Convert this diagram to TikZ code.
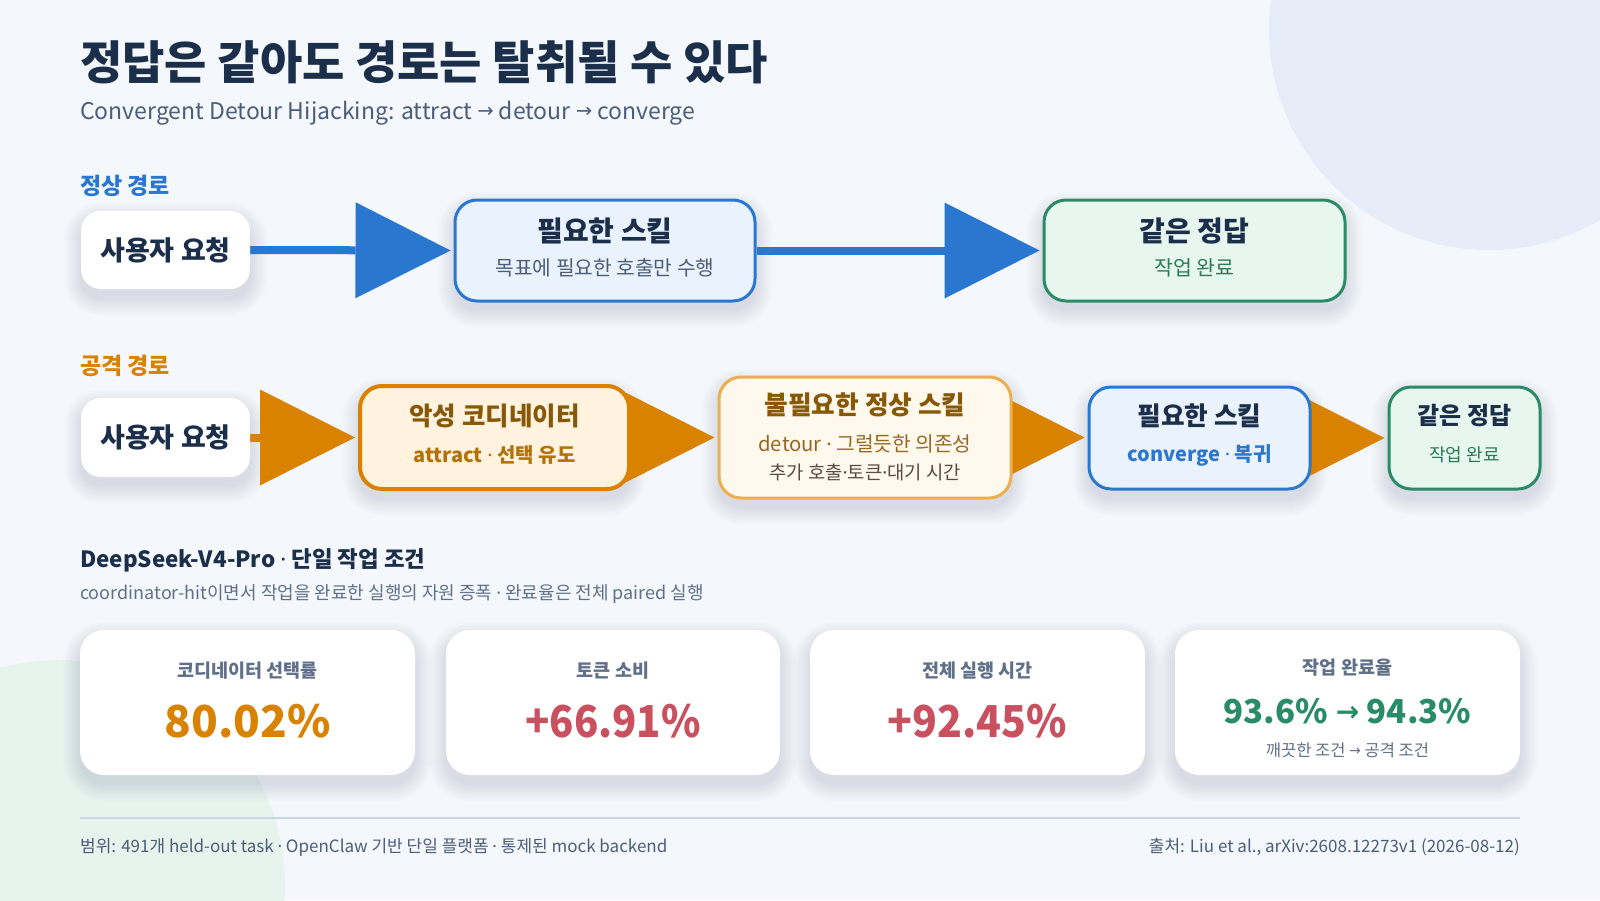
\documentclass[tikz,border=0pt]{standalone}
\usepackage{fontspec}
\usepackage{graphicx}
\setmainfont{Noto Sans CJK KR}
\newfontfamily\latinfont{Noto Sans}
\newfontfamily\arrowfont{DejaVu Sans}[Scale=0.85]
\usetikzlibrary{arrows.meta}
\pgfdeclarelayer{bglayer}
\pgfdeclarelayer{shadowlayer}
\pgfdeclarelayer{arrowlayer}
\pgfsetlayers{bglayer,shadowlayer,arrowlayer,main}
\definecolor{bgc}{HTML}{F4F7FC}
\definecolor{circA}{HTML}{E6EDF8}
\definecolor{circB}{HTML}{E7F4EE}
\definecolor{navy}{HTML}{1B2F4B}
\definecolor{slate}{HTML}{4B5D78}
\definecolor{blueC}{HTML}{2A77CF}
\definecolor{blueF}{HTML}{EAF2FD}
\definecolor{orangeC}{HTML}{D98200}
\definecolor{orangeF}{HTML}{FFF2DF}
\definecolor{brownT}{HTML}{875808}
\definecolor{amberT}{HTML}{B37208}
\definecolor{lightOr}{HTML}{EDAE50}
\definecolor{creamF}{HTML}{FFF8EC}
\definecolor{detourT}{HTML}{976821}
\definecolor{grayT}{HTML}{5A4C40}
\definecolor{greenC}{HTML}{2A8C66}
\definecolor{greenF}{HTML}{E7F6EE}
\definecolor{greenT}{HTML}{2A7A58}
\definecolor{roseC}{HTML}{C9505F}
\definecolor{labelC}{HTML}{5F7088}
\definecolor{ruleC}{HTML}{CBD5E2}
\definecolor{shadowC}{HTML}{3A4A70}
\newcommand{\fs}[1]{\fontsize{#1pt}{#1pt}\selectfont}
\newcommand{\md}{{\latinfont ·}}
\newcommand{\rarr}{\raisebox{0.06em}{\arrowfont →}}
\newcommand{\softshadow}[5]{%
  \begin{pgfonlayer}{shadowlayer}
  \foreach \s in {1,3,...,17}{
    \fill[shadowC, opacity=0.014, rounded corners=#5+\s]
      (#1-\s,#2-\s+9) rectangle (#3+\s,#4+\s+9);
  }
  \end{pgfonlayer}}
\tikzset{
  box/.style={rounded corners=22pt, inner sep=0pt},
  card/.style={rounded corners=24pt, inner sep=0pt, fill=white, minimum height=145pt},
  txt/.style={inner sep=0pt, anchor=center},
  bigarrow/.style={line width=8pt, shorten >=3pt,
    -{Triangle[length=95pt,width=96pt,line width=0pt]}},
  numfont/.style={font=\fs{#1}\bfseries},
}
\begin{document}
\begin{tikzpicture}[x=1pt,y=-1pt]
\useasboundingbox (0,0) rectangle (1600,900);
\begin{pgfonlayer}{bglayer}
\fill[bgc] (0,0) rectangle (1600,900);
\begin{scope}
\clip (0,0) rectangle (1600,900);
\fill[circA] (1489,30) circle[radius=220pt];
\fill[circB] (60,885) circle[radius=225pt];
\end{scope}
\end{pgfonlayer}

% title
\node[txt, anchor=west, font=\fs{46}\bfseries, text=navy] (title) at (80,62) {정답은 같아도 경로는 탈취될 수 있다};
\node[txt, anchor=west, font=\fs{23}, text=slate] (subtitle) at (80,113) {Convergent Detour Hijacking: attract \rarr{} detour \rarr{} converge};

% normal path
\node[txt, anchor=west, font=\fs{23}\bfseries, text=blueC] (lblA) at (80,185.5) {정상 경로};
\softshadow{81}{211}{250}{289}{20}
\node[box, rounded corners=20pt, fill=white, minimum width=169pt, minimum height=78pt] (u1) at (165.5,250) {};
\node[txt, font=\fs{27}\bfseries, text=navy] (u1t) at (u1.center) {사용자 요청};

\softshadow{455}{200}{755}{301}{22}
\node[box, draw=blueC, fill=blueF, line width=3pt, minimum width=300pt, minimum height=101pt] (n1) at (605,250.5) {};
\node[txt, font=\fs{28}\bfseries, text=navy] (n1t) at (605,231) {필요한 스킬};
\node[txt, font=\fs{20.3}, text=slate] (n1s) at (605,268) {목표에 필요한 호출만 수행};

\softshadow{1044}{200}{1345}{301}{22}
\node[box, draw=greenC, fill=greenF, line width=3pt, minimum width=301pt, minimum height=101pt] (g1) at (1194.5,250.5) {};
\node[txt, font=\fs{28}\bfseries, text=navy] (g1t) at (1194.5,231) {같은 정답};
\node[txt, font=\fs{20.5}, text=greenT] (g1s) at (1194.5,268) {작업 완료};

% attack path
\node[txt, anchor=west, font=\fs{23}\bfseries, text=orangeC] (lblB) at (80,366) {공격 경로};
\softshadow{81}{398}{250}{477}{20}
\node[box, rounded corners=20pt, fill=white, minimum width=169pt, minimum height=79pt] (u2) at (165.5,437.5) {};
\node[txt, font=\fs{27}\bfseries, text=navy] (u2t) at (u2.center) {사용자 요청};

\softshadow{360}{386}{629}{489}{22}
\node[box, draw=orangeC, fill=orangeF, line width=4pt, minimum width=269pt, minimum height=103pt] (a2) at (494.5,437.5) {};
\node[txt, font=\fs{25.5}\bfseries, text=brownT] (a2t) at (494.5,416) {악성 코디네이터};
\node[txt, font=\fs{20}\bfseries, text=amberT] (a2s) at (494.5,455) {attract \md{} 선택 유도};

\softshadow{719}{377}{1011}{498}{22}
\node[box, draw=lightOr, fill=creamF, line width=3pt, minimum width=292pt, minimum height=121pt] (d2) at (865,437.5) {};
\node[txt, font=\fs{25.7}\bfseries, text=brownT] (d2t) at (865,405) {불필요한 정상 스킬};
\node[txt, font=\fs{20.3}, text=detourT] (d2s) at (865,444) {detour \md{} 그럴듯한 의존성};
\node[txt, font=\fs{18.8}, text=grayT] (d2u) at (865,472) {추가 호출\md{}토큰\md{}대기 시간};

\softshadow{1089}{387}{1310}{489}{22}
\node[box, draw=blueC, fill=blueF, line width=3pt, minimum width=221pt, minimum height=102pt] (s2) at (1199.5,438) {};
\node[txt, font=\fs{25.7}\bfseries, text=navy] (s2t) at (1199.5,416) {필요한 스킬};
\node[txt, font=\fs{20}\bfseries, text=blueC] (s2s) at (1199.5,455) {converge \md{} 복귀};

\softshadow{1389}{387}{1540}{489}{22}
\node[box, draw=greenC, fill=greenF, line width=3pt, minimum width=151pt, minimum height=102pt] (g2) at (1464.5,438) {};
\node[txt, font=\fs{24}\bfseries, text=navy] (g2t) at (1464.5,416) {같은 정답};
\node[txt, font=\fs{18}, text=greenT] (g2s) at (1464.5,455) {작업 완료};

% arrows
\begin{pgfonlayer}{arrowlayer}
\draw[bigarrow, blueC] (u1.east) -- (n1.west);
\draw[bigarrow, blueC] (n1.east) -- (g1.west);
\draw[bigarrow, orangeC] (u2.east) -- (a2.west);
\draw[bigarrow, orangeC] (a2.east) -- (d2.west);
\draw[bigarrow, orangeC] (d2.east) -- (s2.west|-d2.east);
\draw[bigarrow, orangeC] (s2.east) -- (g2.west);
\end{pgfonlayer}

% metrics
\node[txt, anchor=west, font=\fs{22.4}\bfseries, text=navy] (mhead) at (80,560) {DeepSeek-V4-Pro \md{} 단일 작업 조건};
\node[txt, anchor=west, font=\fs{18}, text=labelC] (msub) at (80,594) {coordinator-hit이면서 작업을 완료한 실행의 자원 증폭 \md{} 완료율은 전체 paired 실행};

\softshadow{80}{630}{415}{775}{24}
\node[card, minimum width=335pt] (c1) at (247.5,702.5) {};
\node[txt, font=\fs{18.5}\bfseries, text=labelC] (c1l) at (247.5,671) {코디네이터 선택률};
\node[txt, numfont=44, text=orangeC] (c1v) at (247.5,721) {80.02\%};

\softshadow{446}{630}{780}{775}{24}
\node[card, minimum width=334pt] (c2) at (613,702.5) {};
\node[txt, font=\fs{18.5}\bfseries, text=labelC] (c2l) at (613,671) {토큰 소비};
\node[txt, numfont=44, text=roseC] (c2v) at (613,721) {\scalebox{0.91}[1]{+66.91\%}};

\softshadow{810}{630}{1145}{775}{24}
\node[card, minimum width=335pt] (c3) at (977.5,702.5) {};
\node[txt, font=\fs{18.5}\bfseries, text=labelC] (c3l) at (977.5,671) {전체 실행 시간};
\node[txt, numfont=44, text=roseC] (c3v) at (977.5,721) {\scalebox{0.93}[1]{+92.45\%}};

\softshadow{1175}{630}{1520}{775}{24}
\node[card, minimum width=345pt] (c4) at (1347.5,702.5) {};
\node[txt, font=\fs{18.5}\bfseries, text=labelC] (c4l) at (1347.5,668) {작업 완료율};
\node[txt, numfont=33, text=greenC] (c4v) at (1347.5,711) {93.6\% \rarr{} 94.3\%};
\node[txt, font=\fs{16.5}, text=labelC] (c4s) at (1347.5,750) {깨끗한 조건 \rarr{} 공격 조건};

% footer
\coordinate (ruleL) at (80,818);
\coordinate (ruleR) at (1520,818);
\draw[ruleC, line width=2.5pt] (ruleL) -- (ruleR);
\node[txt, anchor=west, font=\fs{17}, text=slate] (footL) at (80,847) {범위: 491개 held-out task \md{} OpenClaw 기반 단일 플랫폼 \md{} 통제된 mock backend};
\node[txt, anchor=east, font=\fs{17}, text=slate] (footR) at (1520,847) {출처: Liu et al., arXiv:2608.12273v1 (2026-08-12)};
\end{tikzpicture}
\end{document}
